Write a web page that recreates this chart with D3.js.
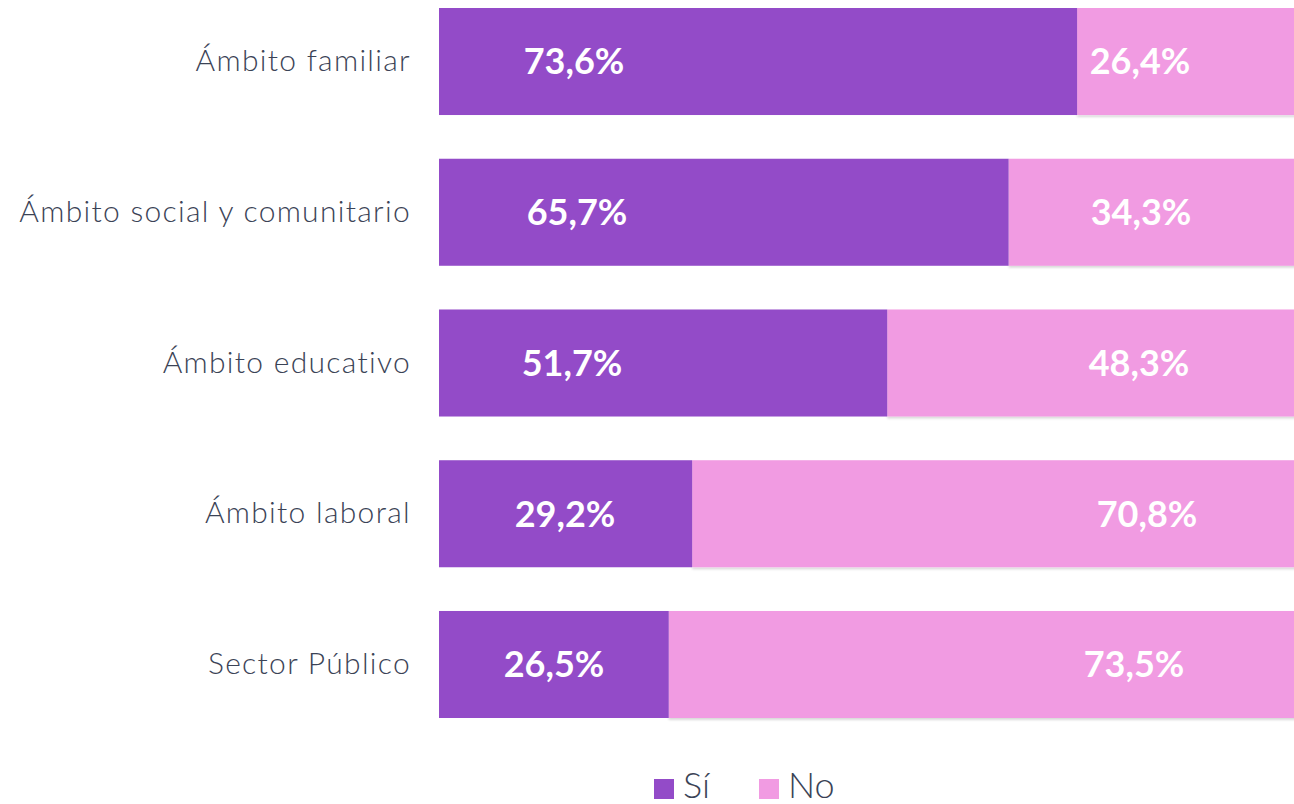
<!DOCTYPE html>
<html>
<head>
<meta charset="utf-8">
<script src="https://cdn.jsdelivr.net/npm/d3@7"></script>
<style>
  body { margin: 0; background: #fff; }
  svg { display: block; }
</style>
</head>
<body>
<svg id="chart" width="1294" height="804"></svg>
<script>
// data
var categories = ["Ámbito familiar", "Ámbito social y comunitario", "Ámbito educativo", "Ámbito laboral", "Sector Público"];
var si = [73.6, 65.7, 51.7, 29.2, 26.5];
var no = [26.4, 34.3, 48.3, 70.8, 73.5];
var seriesNames = ["Sí", "No"];

var colors = ["#934bc8", "#f19be2"];
var textColor = "#3b4356";

var svg = d3.select("#chart");

// bars run past the right edge of the picture, as in the original
var x = d3.scaleLinear().domain([0, 100]).range([439, 1306]);
var y = d3.scaleBand().domain(categories).range([8, 718]).paddingInner(0.29).paddingOuter(0);

var fmt = v => d3.format(".1f")(v).replace(".", ",") + "%";

// light shadow under bars
var defs = svg.append("defs");
var f = defs.append("filter").attr("id", "shadow").attr("x", "-5%").attr("y", "-5%").attr("width", "110%").attr("height", "120%");
f.append("feDropShadow").attr("dx", 0).attr("dy", 2).attr("stdDeviation", 1.2).attr("flood-color", "#000").attr("flood-opacity", 0.15);

var rows = svg.selectAll("g.row").data(categories).enter().append("g")
  .attr("class", "row");

rows.append("rect")
  .attr("x", (d, i) => x(si[i]))
  .attr("y", d => y(d))
  .attr("width", (d, i) => x(si[i] + no[i]) - x(si[i]))
  .attr("height", y.bandwidth())
  .attr("fill", colors[1])
  .attr("filter", "url(#shadow)");

rows.append("rect")
  .attr("x", x(0))
  .attr("y", d => y(d))
  .attr("width", (d, i) => x(si[i]) - x(0))
  .attr("height", y.bandwidth())
  .attr("fill", colors[0]);

// value labels (placement)
var siLabelX = [574, 577, 572, 565, 554];
var noLabelX = [1140, 1141, 1139, 1147, 1134];

rows.append("text")
  .attr("x", (d, i) => siLabelX[i])
  .attr("y", d => y(d) + y.bandwidth() / 2)
  .attr("dy", "0.36em")
  .attr("text-anchor", "middle")
  .attr("fill", "#fff")
  .style("font", "bold 36px Lato, sans-serif")
  .text((d, i) => fmt(si[i]));

rows.append("text")
  .attr("x", (d, i) => noLabelX[i])
  .attr("y", d => y(d) + y.bandwidth() / 2)
  .attr("dy", "0.36em")
  .attr("text-anchor", "middle")
  .attr("fill", "#fff")
  .style("font", "bold 36px Lato, sans-serif")
  .text((d, i) => fmt(no[i]));

// category labels
svg.selectAll("text.cat").data(categories).enter().append("text")
  .attr("class", "cat")
  .attr("x", 411)
  .attr("y", d => y(d) + y.bandwidth() / 2)
  .attr("dy", "0.32em")
  .attr("text-anchor", "end")
  .attr("fill", textColor)
  .style("font", "300 30px Lato, sans-serif")
  .style("letter-spacing", "1.3px")
  .text(d => d);

// legend
var legend = svg.append("g").attr("transform", "translate(654,779)");
var legX = [0, 105];
var items = legend.selectAll("g").data(seriesNames).enter().append("g")
  .attr("transform", (d, i) => "translate(" + legX[i] + ",0)");
items.append("rect").attr("width", 20).attr("height", 20).attr("fill", (d, i) => colors[i]);
items.append("text")
  .attr("x", 29)
  .attr("y", 19)
  .attr("fill", textColor)
  .style("font", "300 36px Lato, sans-serif")
  .text(d => d);
</script>
</body>
</html>
